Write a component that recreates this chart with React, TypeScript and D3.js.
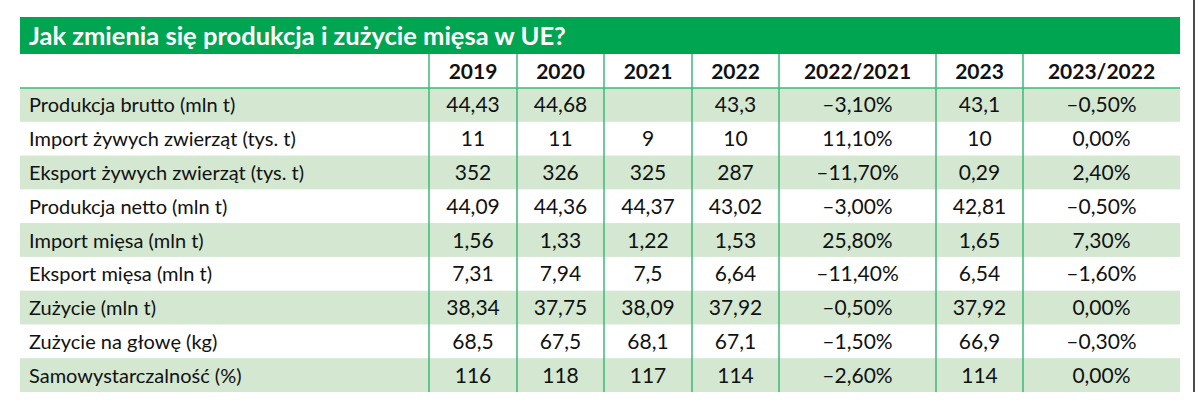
import React from "react";
import * as d3 from "d3";

const title = "Jak zmienia się produkcja i zużycie mięsa w UE?";
const columnHeaders = ["", "2019", "2020", "2021", "2022", "2022/2021", "2023", "2023/2022"];
const rowLabels = [
  "Produkcja brutto (mln t)",
  "Import żywych zwierząt (tys. t)",
  "Eksport żywych zwierząt (tys. t)",
  "Produkcja netto (mln t)",
  "Import mięsa (mln t)",
  "Eksport mięsa (mln t)",
  "Zużycie (mln t)",
  "Zużycie na głowę (kg)",
  "Samowystarczalność (%)",
];
const values2019 = [44.43, 11, 352, 44.09, 1.56, 7.31, 38.34, 68.5, 116];
const values2020 = [44.68, 11, 326, 44.36, 1.33, 7.94, 37.75, 67.5, 118];
const values2021: (number | null)[] = [null, 9, 325, 44.37, 1.22, 7.5, 38.09, 68.1, 117];
const values2022 = [43.3, 10, 287, 43.02, 1.53, 6.64, 37.92, 67.1, 114];
const change2022_2021 = [-3.1, 11.1, -11.7, -3.0, 25.8, -11.4, -0.5, -1.5, -2.6];
const values2023 = [43.1, 10, 0.29, 42.81, 1.65, 6.54, 37.92, 66.9, 114];
const change2023_2022 = [-0.5, 0.0, 2.4, -0.5, 7.3, -1.6, 0.0, -0.3, 0.0];

const W = 1200;
const H = 402;
const colEdges = [20, 429, 517, 604, 692, 779, 936, 1023, 1180];
const titleTop = 17;
const titleBottom = 54;
const headerBottom = 88;
const tableBottom = 392;

const GREEN = "#00a551";
const LINE = "#3db878";
const BAND = "#d3e7d1";
const FONT = "Lato, 'Open Sans', sans-serif";

const fmtNum = (v: number | null) => (v == null ? "" : String(v).replace(".", ",").replace("-", "–"));
const fmtPct = (v: number) => (v < 0 ? "–" : "") + Math.abs(v).toFixed(2).replace(".", ",") + "%";

export default function App() {
  const y = d3.scaleBand<number>().domain(d3.range(rowLabels.length)).range([headerBottom, tableBottom]).padding(0);
  const columns: string[][] = [
    rowLabels,
    values2019.map(fmtNum),
    values2020.map(fmtNum),
    values2021.map(fmtNum),
    values2022.map(fmtNum),
    change2022_2021.map(fmtPct),
    values2023.map(fmtNum),
    change2023_2022.map(fmtPct),
  ];
  const bh = y.bandwidth();
  return (
    <svg width={W} height={H} style={{ position: "absolute", left: 0, top: 0, background: "#fff" }}>
      <rect x={colEdges[0]} y={titleTop} width={colEdges[8] - colEdges[0]} height={titleBottom - titleTop} fill={GREEN} />
      <text x={29} y={(titleTop + titleBottom) / 2 + 9} fill="#fff" fontFamily={FONT} fontWeight={700} fontSize={25.5}>
        {title}
      </text>
      {rowLabels.map((_, i) =>
        i % 2 === 0 ? (
          <rect key={i} x={colEdges[0]} y={y(i)!} width={colEdges[8] - colEdges[0]} height={bh} fill={BAND} />
        ) : null
      )}
      <line x1={colEdges[0]} x2={colEdges[8]} y1={headerBottom} y2={headerBottom} stroke={LINE} strokeWidth={1.5} />
      {colEdges.slice(1, 8).map((x, i) => (
        <line key={i} x1={x} x2={x} y1={titleBottom} y2={tableBottom} stroke={LINE} strokeWidth={1.5} />
      ))}
      {columnHeaders.map((h, c) =>
        h ? (
          <text
            key={c}
            x={(colEdges[c] + colEdges[c + 1]) / 2}
            y={(titleBottom + headerBottom) / 2 + 7.5}
            textAnchor="middle"
            fontFamily={FONT}
            fontWeight={700}
            fontSize={21}
            fill="#111"
          >
            {h}
          </text>
        ) : null
      )}
      {columns.map((col, c) =>
        col.map((v, i) => (
          <text
            key={c + "-" + i}
            x={c === 0 ? 29 : (colEdges[c] + colEdges[c + 1]) / 2}
            y={y(i)! + bh / 2 + 7.5}
            textAnchor={c === 0 ? "start" : "middle"}
            fontFamily={FONT}
            fontSize={c === 0 ? 20 : 21}
            fill="#111"
          >
            {v}
          </text>
        ))
      )}
      <line x1={1194} x2={1194} y1={0} y2={tableBottom} stroke="#111" strokeWidth={1.5} />
    </svg>
  );
}
